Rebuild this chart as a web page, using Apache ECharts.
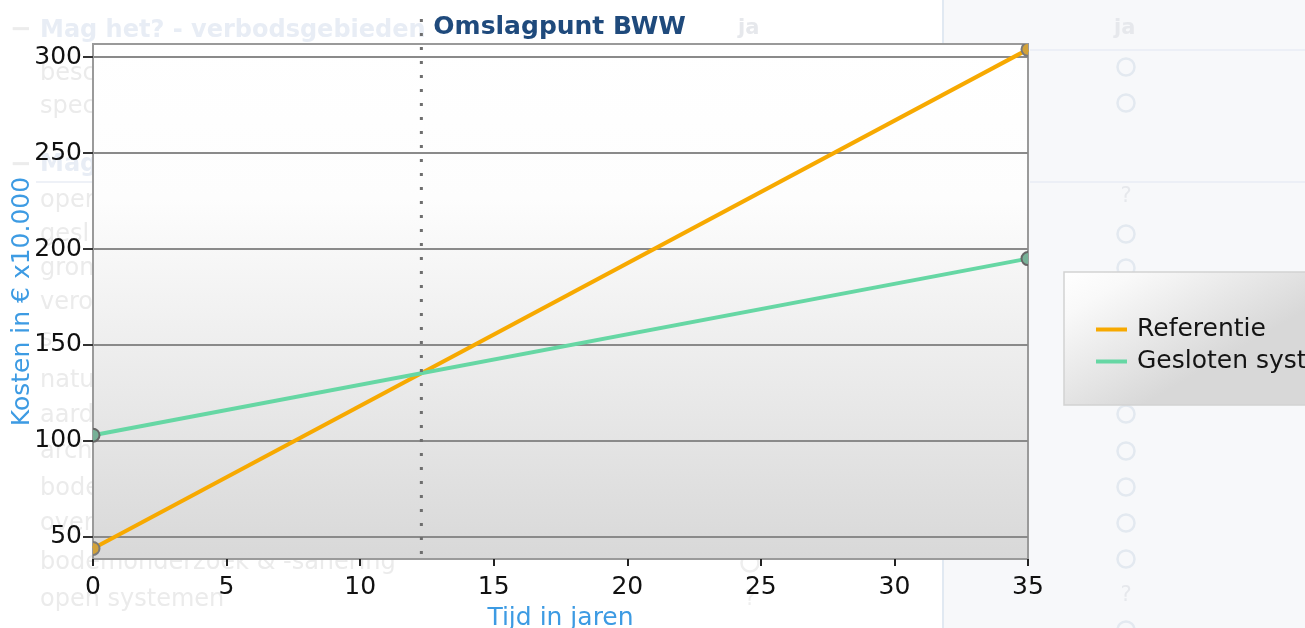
<!DOCTYPE html>
<html>
<head>
<meta charset="utf-8">
<script src="https://cdn.jsdelivr.net/npm/echarts@6/dist/echarts.min.js"></script>
<style>
  html, body { margin: 0; padding: 0; background: #ffffff; }
  #chart { width: 1305px; height: 628px; }
</style>
</head>
<body>
<div id="chart"></div>
<script>
// Cost development over time for the two heating/cooling options
const years = [0, 35];
const referentie = [44, 304];
const gesloten = [103, 195];
const seriesNames = ['Referentie', 'Gesloten systeem'];
const markerTitle = 'Omslagpunt BWW';
const xAxisName = 'Tijd in jaren';
const yAxisName = 'Kosten in € x10.000';
const yRange = [38.5, 306.8];
const yTickValues = [50, 100, 150, 200, 250, 300];

// Faded page content behind the chart
const sideLabels = [
  ['besc', 74], ['spec', 107], ['oper', 201], ['gesl', 235], ['gron', 269],
  ['vero', 303], ['s', 340], ['natu', 381], ['aard', 416], ['arch', 452],
  ['bode', 489], ['over', 524], ['bodemonderzoek & -sanering', 563],
  ['open systemen', 600]
];
const choiceMarks = [
  ['o', 67], ['o', 103], ['?', 197], ['o', 234], ['o', 268], ['o', 414],
  ['o', 451], ['o', 487], ['o', 523], ['o', 559], ['?', 596], ['o', 630]
];

const FONT = '"DejaVu Sans", Verdana, sans-serif';
const FS = 25;

// Year at which the two cost lines cross
function crossover(xs, a, b) {
  const sa = (a[1] - a[0]) / (xs[1] - xs[0]);
  const sb = (b[1] - b[0]) / (xs[1] - xs[0]);
  return xs[0] + (b[0] - a[0]) / (sa - sb);
}
const breakEven = crossover(years, referentie, gesloten);

function pairs(values) {
  return years.map((x, i) => [x, values[i]]);
}

function dotSeries(values, fill, stroke) {
  return {
    type: 'custom',
    data: pairs(values),
    clip: true,
    silent: true,
    z: 4,
    renderItem(params, api) {
      const p = api.coord([api.value(0), api.value(1)]);
      return {
        type: 'circle',
        shape: { cx: p[0], cy: p[1], r: 6.5 },
        style: { fill: fill, stroke: stroke, lineWidth: 2 }
      };
    }
  };
}

const background = [];
background.push({
  type: 'rect', z: -10, silent: true,
  shape: { x: 943, y: 0, width: 362, height: 628 },
  style: { fill: '#f7f8fa' }
});
background.push({
  type: 'line', z: -9, silent: true,
  shape: { x1: 943, y1: 0, x2: 943, y2: 628 },
  style: { stroke: '#e1e9f2', lineWidth: 2 }
});
[50, 182].forEach(y => background.push({
  type: 'line', z: -9, silent: true,
  shape: { x1: 1030, y1: y, x2: 1305, y2: y },
  style: { stroke: '#e8edf4', lineWidth: 1.5 }
}));
background.push({
  type: 'line', z: -9, silent: true,
  shape: { x1: 36, y1: 182, x2: 93, y2: 182 },
  style: { stroke: '#e8edf4', lineWidth: 1.5 }
});
[30, 165].forEach(y => background.push({
  type: 'text', z: -9, silent: true, x: 10, y: y,
  style: { text: '−', font: 'bold 26px ' + FONT, fill: '#ececec', verticalAlign: 'middle' }
}));
background.push({
  type: 'text', z: -9, silent: true, x: 40, y: 31,
  style: { text: 'Mag het? - verbodsgebieden', font: 'bold 24px ' + FONT, fill: '#e8edf5', verticalAlign: 'middle' }
});
background.push({
  type: 'text', z: -9, silent: true, x: 40, y: 165,
  style: { text: 'Mag', font: 'bold 24px ' + FONT, fill: '#e8edf5', verticalAlign: 'middle' }
});
sideLabels.forEach(([t, y]) => background.push({
  type: 'text', z: -9, silent: true, x: 40, y: y,
  style: { text: t, font: '24px ' + FONT, fill: '#ebebeb', verticalAlign: 'middle' }
}));
[738, 1114].forEach(x => background.push({
  type: 'text', z: -9, silent: true, x: x, y: 29,
  style: { text: 'ja', font: 'bold 21px ' + FONT, fill: '#e6e8ec', verticalAlign: 'middle' }
}));
choiceMarks.forEach(([m, y]) => {
  if (m === 'o') {
    background.push({
      type: 'circle', z: -9, silent: true,
      shape: { cx: 1126, cy: y, r: 8.5 },
      style: { fill: 'none', stroke: '#e3e9f0', lineWidth: 2.5 }
    });
  } else {
    background.push({
      type: 'text', z: -9, silent: true, x: 1126, y: y,
      style: { text: '?', font: '21px ' + FONT, fill: '#e6e8ec', align: 'center', verticalAlign: 'middle' }
    });
  }
});
[563, 600].forEach((y, i) => background.push(i === 0 ? {
  type: 'circle', z: -9, silent: true,
  shape: { cx: 750, cy: y, r: 8.5 },
  style: { fill: 'none', stroke: '#eeeeee', lineWidth: 2.5 }
} : {
  type: 'text', z: -9, silent: true, x: 750, y: y,
  style: { text: '?', font: '21px ' + FONT, fill: '#eeeeee', align: 'center', verticalAlign: 'middle' }
}));

const chart = echarts.init(document.getElementById('chart'), null, { renderer: 'canvas' });

chart.setOption({
  animation: false,
  backgroundColor: '#ffffff',
  textStyle: { fontFamily: FONT },
  graphic: background,
  grid: {
    left: 93, right: 277, top: 44, bottom: 69,
    outerBoundsMode: 'none',
    containLabel: false,
    show: true,
    borderColor: '#9a9a9a',
    borderWidth: 2,
    backgroundColor: {
      type: 'linear', x: 0, y: 0, x2: 0, y2: 1,
      colorStops: [
        { offset: 0, color: '#ffffff' },
        { offset: 0.3, color: '#fdfdfd' },
        { offset: 1, color: '#d8d8d8' }
      ]
    }
  },
  legend: {
    orient: 'vertical',
    left: 1064, top: 272,
    data: seriesNames,
    icon: 'rect',
    itemWidth: 31, itemHeight: 4, itemGap: 7,
    padding: [45, 220, 31, 32],
    backgroundColor: {
      type: 'linear', x: 0, y: 0, x2: 0.15, y2: 1,
      colorStops: [
        { offset: 0, color: '#ffffff' },
        { offset: 0.25, color: '#f9f9f9' },
        { offset: 1, color: '#d8d8d8' }
      ]
    },
    borderColor: '#d2d2d2',
    borderWidth: 1.5,
    textStyle: { fontSize: FS, color: '#141414', fontFamily: FONT, padding: [0, 0, 0, 5] }
  },
  xAxis: {
    type: 'value',
    min: 0, max: 35, interval: 5,
    name: xAxisName,
    nameLocation: 'middle',
    nameGap: 47,
    nameMoveOverlap: false,
    nameTextStyle: { color: '#3d9be3', fontSize: FS, fontFamily: FONT },
    axisLine: { show: true, lineStyle: { color: '#9a9a9a', width: 2 } },
    axisTick: { show: true, length: 7, lineStyle: { color: '#222', width: 2 } },
    axisLabel: { color: '#111', fontSize: FS, margin: 16, fontFamily: FONT },
    splitLine: { show: false }
  },
  yAxis: {
    type: 'value',
    min: yRange[0], max: yRange[1], splitNumber: 5,
    name: yAxisName,
    nameLocation: 'middle',
    nameGap: 58,
    nameMoveOverlap: false,
    nameTextStyle: { color: '#3d9be3', fontSize: FS, fontFamily: FONT },
    axisLine: { show: true, lineStyle: { color: '#9a9a9a', width: 2 } },
    axisTick: { show: true, length: 10, customValues: yTickValues, lineStyle: { color: '#333', width: 2 } },
    axisLabel: { color: '#111', fontSize: FS, margin: 11, padding: [4, 0, 0, 0], customValues: yTickValues, fontFamily: FONT },
    splitLine: { show: true, lineStyle: { color: '#8a8a8a', width: 2 } }
  },
  series: [
    {
      name: seriesNames[0],
      type: 'line',
      data: pairs(referentie),
      showSymbol: false,
      clip: true,
      z: 3,
      color: '#f7a900',
      lineStyle: { width: 4, color: '#f7a900' }
    },
    {
      name: seriesNames[1],
      type: 'line',
      data: pairs(gesloten),
      showSymbol: false,
      clip: true,
      z: 3,
      color: '#66d7a4',
      lineStyle: { width: 4, color: '#66d7a4' }
    },
    dotSeries(referentie, '#d2a23a', '#7a7a7a'),
    dotSeries(gesloten, '#77b197', '#666666'),
    {
      type: 'custom',
      data: [[breakEven]],
      clip: false,
      silent: true,
      z: 5,
      renderItem(params, api) {
        const top = api.coord([api.value(0), yRange[1]]);
        const bottom = api.coord([api.value(0), yRange[0]]);
        return {
          type: 'group',
          children: [
            {
              type: 'line',
              shape: { x1: top[0], y1: top[1] - 25, x2: bottom[0], y2: bottom[1] },
              style: { stroke: '#6e6e6e', lineWidth: 3, lineDash: [3, 11] }
            },
            {
              type: 'text',
              x: top[0] + 12, y: top[1] - 17,
              style: {
                text: markerTitle,
                font: 'bold ' + FS + 'px ' + FONT,
                fill: '#1f4a7c',
                verticalAlign: 'middle'
              }
            }
          ]
        };
      }
    }
  ]
});
</script>
</body>
</html>
